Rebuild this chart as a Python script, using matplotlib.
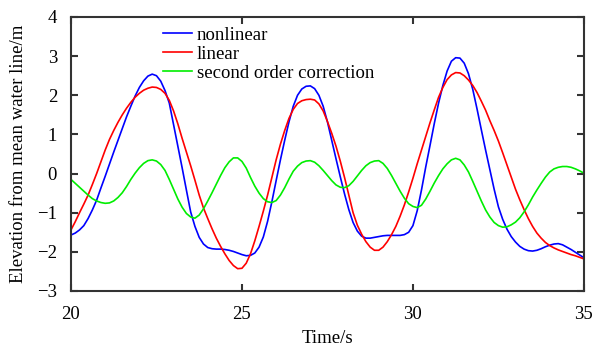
import numpy as np
import matplotlib
matplotlib.use("Agg")
import matplotlib.pyplot as plt

# time axis (s), values read every 0.125 s off the reference
time = np.arange(20.0, 35.001, 0.125)

# one row per second: t = N.000 ... N.875
nonlinear = [
    -1.57, -1.52, -1.44, -1.33, -1.15, -0.93, -0.68, -0.37,
    -0.07, 0.24, 0.55, 0.85, 1.15, 1.45, 1.72, 1.98,
    2.20, 2.37, 2.49, 2.54, 2.50, 2.36, 2.12, 1.80,
    1.25, 0.70, 0.15, -0.42, -0.98, -1.35, -1.63, -1.80,
    -1.89, -1.92, -1.93, -1.93, -1.94, -1.96, -1.99, -2.03,
    -2.07, -2.10, -2.09, -2.03, -1.88, -1.62, -1.22, -0.72,
    -0.18, 0.35, 0.85, 1.32, 1.72, 2.00, 2.16, 2.23,
    2.24, 2.17, 2.00, 1.72, 1.32, 0.85, 0.38, -0.08,
    -0.52, -0.92, -1.25, -1.47, -1.60, -1.65, -1.65, -1.63,
    -1.61, -1.59, -1.58, -1.58, -1.58, -1.58, -1.56, -1.50,
    -1.33, -0.95, -0.42, 0.17, 0.72, 1.28, 1.80, 2.25,
    2.62, 2.87, 2.96, 2.95, 2.82, 2.55, 2.15, 1.65,
    1.12, 0.60, 0.10, -0.40, -0.85, -1.17, -1.42, -1.61,
    -1.75, -1.86, -1.93, -1.97, -1.98, -1.96, -1.92, -1.87,
    -1.83, -1.80, -1.79, -1.82, -1.88, -1.94, -2.01, -2.08,
    -2.15,
]

linear = [
    -1.44, -1.23, -1.00, -0.78, -0.55, -0.28, 0.00, 0.30,
    0.60, 0.87, 1.10, 1.31, 1.50, 1.67, 1.82, 1.95,
    2.05, 2.13, 2.18, 2.21, 2.20, 2.15, 2.05, 1.87,
    1.60, 1.27, 0.90, 0.55, 0.20, -0.17, -0.55, -0.88,
    -1.15, -1.41, -1.65, -1.86, -2.05, -2.22, -2.35, -2.43,
    -2.42, -2.29, -2.05, -1.72, -1.35, -0.96, -0.55, -0.10,
    0.35, 0.75, 1.10, 1.41, 1.64, 1.79, 1.86, 1.89,
    1.90, 1.88, 1.78, 1.60, 1.33, 1.03, 0.70, 0.32,
    -0.10, -0.55, -1.00, -1.32, -1.55, -1.74, -1.88, -1.96,
    -1.96, -1.88, -1.74, -1.56, -1.35, -1.09, -0.80, -0.47,
    -0.12, 0.25, 0.60, 0.95, 1.30, 1.63, 1.95, 2.20,
    2.40, 2.52, 2.58, 2.57, 2.50, 2.39, 2.25, 2.07,
    1.85, 1.62, 1.35, 1.10, 0.83, 0.53, 0.22, -0.09,
    -0.40, -0.67, -0.92, -1.15, -1.35, -1.52, -1.65, -1.76,
    -1.84, -1.90, -1.95, -1.99, -2.03, -2.07, -2.10, -2.14,
    -2.18,
]

second_order = [
    -0.15, -0.25, -0.35, -0.45, -0.55, -0.64, -0.70, -0.74,
    -0.76, -0.75, -0.70, -0.61, -0.49, -0.33, -0.15, 0.01,
    0.15, 0.26, 0.33, 0.35, 0.32, 0.23, 0.08, -0.15,
    -0.40, -0.65, -0.86, -1.02, -1.11, -1.14, -1.06, -0.90,
    -0.70, -0.49, -0.27, -0.05, 0.15, 0.30, 0.40, 0.40,
    0.31, 0.14, -0.10, -0.32, -0.50, -0.64, -0.72, -0.74,
    -0.69, -0.55, -0.36, -0.14, 0.06, 0.19, 0.28, 0.32,
    0.33, 0.29, 0.20, 0.08, -0.05, -0.18, -0.29, -0.35,
    -0.36, -0.31, -0.20, -0.06, 0.08, 0.20, 0.28, 0.32,
    0.33, 0.26, 0.13, -0.05, -0.25, -0.45, -0.63, -0.77,
    -0.84, -0.87, -0.81, -0.65, -0.45, -0.24, -0.05, 0.12,
    0.25, 0.35, 0.39, 0.35, 0.22, 0.04, -0.20, -0.45,
    -0.70, -0.93, -1.11, -1.25, -1.33, -1.37, -1.36, -1.31,
    -1.24, -1.13, -0.98, -0.80, -0.60, -0.42, -0.25, -0.09,
    0.04, 0.12, 0.16, 0.18, 0.18, 0.16, 0.12, 0.07,
    0.01,
]

plt.rcParams['font.family'] = ['Liberation Serif', 'DejaVu Serif']
plt.rcParams['font.size'] = 13.5

fig = plt.figure(figsize=(5.94, 3.54), dpi=100)
ax = fig.add_axes([0.1195, 0.178, 0.8635, 0.774])

ax.plot(time, nonlinear, color='#0000ff', lw=1.2, label='nonlinear')
ax.plot(time, linear, color='#ff0000', lw=1.2, label='linear')
ax.plot(time, second_order, color='#00ee00', lw=1.2, label='second order correction')

ax.set_xlim(20, 35)
ax.set_ylim(-3, 4)
ax.set_xticks([20, 25, 30, 35])
ax.set_yticks(range(-3, 5))

for sp in ax.spines.values():
    sp.set_linewidth(1.5)
    sp.set_color('#333333')
ax.tick_params(direction='in', length=5, width=1.5, color='#333333',
               top=True, right=True, labelsize=13.5)
ax.tick_params(axis='x', pad=11)
ax.tick_params(axis='y', pad=10)

ax.set_xlabel('Time/s', fontsize=13.5, labelpad=5)
ax.set_ylabel('Elevation from mean water line/m', fontsize=13.5, labelpad=7)

ax.legend(loc='upper left', bbox_to_anchor=(0.179, 0.964), frameon=False,
          borderpad=0, borderaxespad=0, handlelength=1.55,
          handletextpad=0.25, labelspacing=0.1, fontsize=13.5)

fig.savefig('out.png', dpi=100)
